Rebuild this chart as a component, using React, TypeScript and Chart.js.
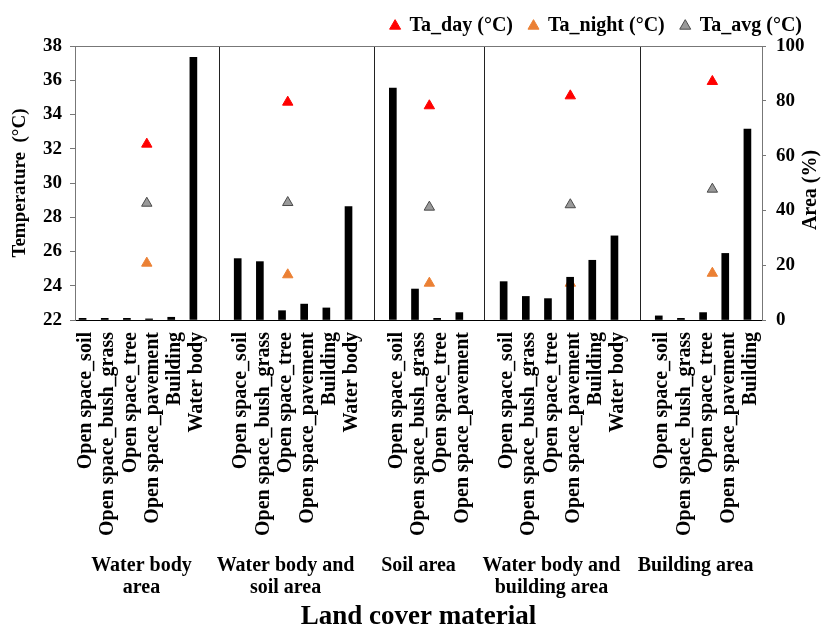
import React, { useEffect, useRef } from 'react';
import { Chart, registerables } from 'chart.js';

Chart.register(...registerables);

const FONT = '"Liberation Serif", "Times New Roman", serif';

// Category names per land-cover area
const waterBodyAreaCats = ['Open space_soil', 'Open space_bush_grass', 'Open space_tree', 'Open space_pavement', 'Building', 'Water body'];
const waterSoilAreaCats = ['Open space_soil', 'Open space_bush_grass', 'Open space_tree', 'Open space_pavement', 'Building', 'Water body'];
const soilAreaCats = ['Open space_soil', 'Open space_bush_grass', 'Open space_tree', 'Open space_pavement'];
const waterBuildingAreaCats = ['Open space_soil', 'Open space_bush_grass', 'Open space_tree', 'Open space_pavement', 'Building', 'Water body'];
const buildingAreaCats = ['Open space_soil', 'Open space_bush_grass', 'Open space_tree', 'Open space_pavement', 'Building'];

// Area (%) per category
const waterBodyAreaPct = [0.6, 0.6, 0.6, 0.4, 1.0, 95.9];
const waterSoilAreaPct = [22.4, 21.3, 3.4, 5.8, 4.4, 41.4];
const soilAreaPct = [84.6, 11.3, 0.6, 2.7];
const waterBuildingAreaPct = [14.0, 8.6, 7.8, 15.6, 21.8, 30.7];
const buildingAreaPct = [1.5, 0.6, 2.7, 24.3, 69.7];

// Group labels (multi-line)
const areaGroupLabels = [
  ['Water body', 'area'],
  ['Water body and', 'soil area'],
  ['Soil area'],
  ['Water body and', 'building area'],
  ['Building area'],
];

// Air temperatures per area (°C)
const taDay = [32.27, 34.72, 34.51, 35.09, 35.93];
const taNight = [25.32, 24.64, 24.15, 24.15, 24.73];
const taAvg = [28.82, 28.86, 28.59, 28.73, 29.64];
// Horizontal slot position of each area's temperature markers
const tempMarkerPos = [2.74, 9.1, 15.49, 21.85, 28.26];

const groups = [
  { cats: waterBodyAreaCats, pct: waterBodyAreaPct },
  { cats: waterSoilAreaCats, pct: waterSoilAreaPct },
  { cats: soilAreaCats, pct: soilAreaPct },
  { cats: waterBuildingAreaCats, pct: waterBuildingAreaPct },
  { cats: buildingAreaCats, pct: buildingAreaPct },
];

const labels: string[] = [];
const barData: (number | null)[] = [];
const groupSpans: { start: number; end: number }[] = [];
groups.forEach((g, gi) => {
  const start = labels.length;
  if (gi > 0) {
    labels.push('');
    barData.push(null);
  }
  g.cats.forEach((c, i) => {
    labels.push(c);
    barData.push(g.pct[i]);
  });
  groupSpans.push({ start, end: labels.length - 1 });
});

const annotatePlugin = {
  id: 'annotate',
  afterDraw(chart: any) {
    const { ctx, chartArea } = chart;
    const xs = chart.scales.x;
    ctx.save();
    ctx.fillStyle = '#000';
    ctx.font = `bold 20px ${FONT}`;
    ctx.textAlign = 'center';
    ctx.textBaseline = 'alphabetic';
    groupSpans.forEach((s, gi) => {
      const cx = (xs.getPixelForValue(s.start) + xs.getPixelForValue(s.end)) / 2;
      areaGroupLabels[gi].forEach((line, li) => {
        ctx.fillText(line, cx, chartArea.bottom + 251 + li * 22);
      });
    });
    ctx.translate(chart.width - 11, (chartArea.top + chartArea.bottom) / 2 + 7);
    ctx.rotate(-Math.PI / 2);
    ctx.textBaseline = 'middle';
    ctx.fillText('Area (%)', 0, 0);
    ctx.restore();
  },
};

export default function App() {
  const ref = useRef<HTMLCanvasElement>(null);

  useEffect(() => {
    if (!ref.current) return;
    const tickFont = { family: FONT, size: 19, weight: 'bold' as const };
    const chart = new Chart(ref.current, {
      type: 'bar',
      data: {
        labels,
        datasets: [
          {
            type: 'bar',
            label: 'Area (%)',
            data: barData,
            xAxisID: 'x',
            yAxisID: 'y2',
            backgroundColor: '#000',
            barThickness: 7,
            order: 0,
          } as any,
          {
            type: 'scatter',
            label: 'Ta_day (°C)',
            data: taDay.map((v, i) => ({ x: tempMarkerPos[i], y: v })),
            xAxisID: 'xPos',
            yAxisID: 'y',
            pointStyle: 'triangle',
            pointRadius: 6,
            backgroundColor: '#FF0000',
            borderColor: '#FF0000',
            borderWidth: 1,
            order: 1,
          },
          {
            type: 'scatter',
            label: 'Ta_night (°C)',
            data: taNight.map((v, i) => ({ x: tempMarkerPos[i], y: v })),
            xAxisID: 'xPos',
            yAxisID: 'y',
            pointStyle: 'triangle',
            pointRadius: 6,
            backgroundColor: '#EB8034',
            borderColor: '#EB8034',
            borderWidth: 1,
            order: 1,
          },
          {
            type: 'scatter',
            label: 'Ta_avg (°C)',
            data: taAvg.map((v, i) => ({ x: tempMarkerPos[i], y: v })),
            xAxisID: 'xPos',
            yAxisID: 'y',
            pointStyle: 'triangle',
            pointRadius: 6,
            backgroundColor: '#9A9A9A',
            borderColor: '#4A4A4A',
            borderWidth: 1,
            order: 1,
          },
        ],
      },
      options: {
        responsive: false,
        animation: false,
        layout: { padding: { top: 0, right: 4, left: 0, bottom: 0 } },
        plugins: {
          legend: {
            position: 'top',
            align: 'end',
            labels: {
              usePointStyle: true,
              boxWidth: 9,
              boxHeight: 9,
              padding: 16,
              color: '#000',
              font: { family: FONT, size: 20, weight: 'bold' },
              filter: (item: any) => item.datasetIndex !== 0,
            },
          },
          tooltip: { enabled: false },
        },
        scales: {
          x: {
            type: 'category',
            position: 'bottom',
            offset: true,
            grid: {
              offset: false,
              drawTicks: false,
              color: (c: any) => (labels[c.index] === '' ? '#222' : 'rgba(0,0,0,0)'),
              lineWidth: 1,
            },
            border: { display: true, color: '#000' },
            ticks: {
              autoSkip: false,
              maxRotation: 90,
              minRotation: 90,
              padding: 12,
              color: '#000',
              font: { family: FONT, size: 20, weight: 'bold' },
            },
            title: {
              display: true,
              text: 'Land cover material',
              color: '#000',
              font: { family: FONT, size: 27, weight: 'bold', lineHeight: 1 },
              padding: 0,
            },
            afterFit: (s: any) => {
              s.height = 311;
            },
          },
          xPos: {
            type: 'linear',
            display: false,
            offset: false,
            grid: { offset: false },
            min: -0.5,
            max: 30.5,
          },
          y: {
            type: 'linear',
            position: 'left',
            min: 22,
            max: 38,
            ticks: { stepSize: 2, padding: 8, color: '#000', font: tickFont },
            grid: {
              color: (c: any) => (c.tick && c.tick.value === 38 ? '#777' : 'rgba(0,0,0,0)'),
              tickColor: '#777',
              tickLength: 5,
            },
            border: { display: true, color: '#777' },
            title: {
              display: true,
              text: 'Temperature  (°C)',
              color: '#000',
              font: { family: FONT, size: 19, weight: 'bold' },
              padding: { top: 9, bottom: 0 },
            },
            afterFit: (s: any) => {
              s.width = 75;
            },
          },
          y2: {
            type: 'linear',
            position: 'right',
            min: 0,
            max: 100,
            ticks: { stepSize: 20, padding: 10, color: '#000', font: tickFont },
            grid: { drawOnChartArea: false, tickColor: '#777', tickLength: 4 },
            border: { display: true, color: '#777' },
            afterFit: (s: any) => {
              s.width = 56;
            },
          },
        },
      } as any,
      plugins: [annotatePlugin],
    });
    return () => chart.destroy();
  }, []);

  return (
    <div style={{ position: 'absolute', left: 0, top: 0, width: 822, height: 631, background: '#fff' }}>
      <canvas ref={ref} width={822} height={631} style={{ display: 'block' }} />
    </div>
  );
}
